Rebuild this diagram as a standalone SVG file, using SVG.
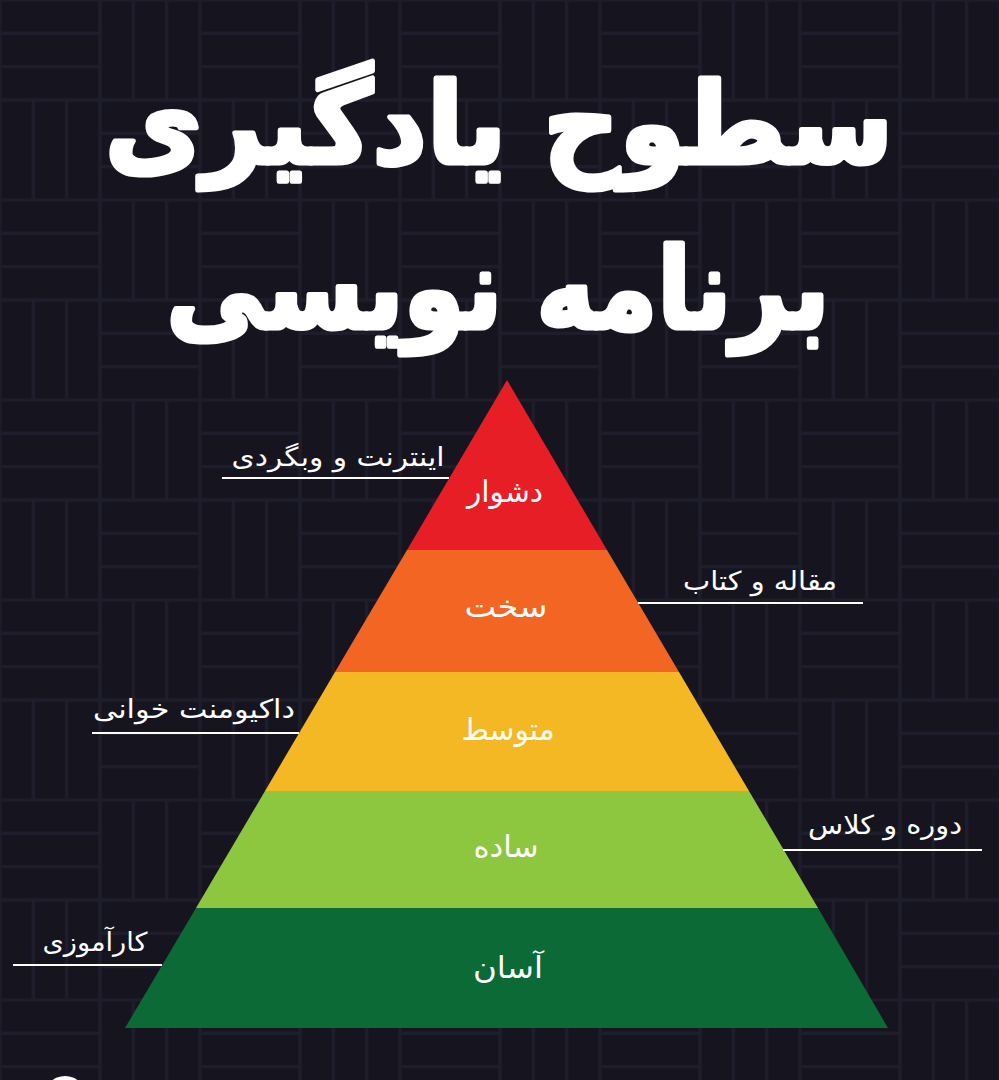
<svg xmlns="http://www.w3.org/2000/svg" width="999" height="1080" viewBox="0 0 999 1080">
  <defs>
    <pattern id="weave" width="200" height="200" patternUnits="userSpaceOnUse">
      <rect width="200" height="200" fill="#15141f"/>
      <g fill="none" stroke="#1e1d2b" stroke-width="3">
        <rect x="0" y="0" width="100" height="33.3"/>
        <rect x="0" y="33.3" width="100" height="33.3"/>
        <rect x="0" y="66.7" width="100" height="33.3"/>
        <rect x="100" y="0" width="33.3" height="100"/>
        <rect x="133.3" y="0" width="33.3" height="100"/>
        <rect x="166.7" y="0" width="33.3" height="100"/>
        <rect x="0" y="100" width="33.3" height="100"/>
        <rect x="33.3" y="100" width="33.3" height="100"/>
        <rect x="66.7" y="100" width="33.3" height="100"/>
        <rect x="100" y="100" width="100" height="33.3"/>
        <rect x="100" y="133.3" width="100" height="33.3"/>
        <rect x="100" y="166.7" width="100" height="33.3"/>
      </g>
    </pattern>
    <style>
      .title { font-family: "DejaVu Sans", "Noto Sans", sans-serif; font-weight: bold; fill: #ffffff; stroke: #ffffff; stroke-width: 5; stroke-linejoin: round; }
      .band { font-family: "DejaVu Sans", "Noto Sans", sans-serif; font-size: 30px; fill: #ffffff; text-anchor: middle; }
      .label { font-family: "DejaVu Sans", "Noto Sans", sans-serif; font-size: 26px; fill: #ffffff; text-anchor: middle; }
      .rule { stroke: #ffffff; stroke-width: 2; fill: none; }
    </style>
  </defs>

  <rect id="background" x="0" y="0" width="999" height="1080" fill="url(#weave)"/>

  <g id="title">
    <text class="title" x="499" y="163" font-size="112" text-anchor="middle" textLength="788" lengthAdjust="spacingAndGlyphs">سطوح یادگیری</text>
    <text class="title" x="498" y="328" font-size="112" text-anchor="middle" textLength="663" lengthAdjust="spacingAndGlyphs">برنامه نویسی</text>
  </g>

  <g id="pyramid">
    <g id="level-hard-extreme">
      <polygon points="507,380 607,550 407,550" fill="#e81e26"/>
      <text class="band" x="505" y="502" textLength="76" lengthAdjust="spacingAndGlyphs">دشوار</text>
    </g>
    <g id="level-hard">
      <polygon points="407,550 607,550 679,672 335,672" fill="#f26522"/>
      <text class="band" x="506" y="617" textLength="83" lengthAdjust="spacingAndGlyphs">سخت</text>
    </g>
    <g id="level-medium">
      <polygon points="335,672 679,672 749,791 265,791" fill="#f3b823"/>
      <text class="band" x="508" y="740" textLength="93" lengthAdjust="spacingAndGlyphs">متوسط</text>
    </g>
    <g id="level-simple">
      <polygon points="265,791 749,791 818,908 196,908" fill="#8dc63f"/>
      <text class="band" x="506" y="857" textLength="65" lengthAdjust="spacingAndGlyphs">ساده</text>
    </g>
    <g id="level-easy">
      <polygon points="196,908 818,908 888,1028 125,1028" fill="#0b6a36"/>
      <text class="band" x="508" y="978" textLength="70" lengthAdjust="spacingAndGlyphs">آسان</text>
    </g>
  </g>

  <g id="connectors">
    <line class="rule" x1="222" y1="478" x2="449" y2="478"/>
    <line class="rule" x1="638" y1="603" x2="863" y2="603"/>
    <line class="rule" x1="92" y1="733" x2="299" y2="733"/>
    <line class="rule" x1="783" y1="850" x2="982" y2="850"/>
    <line class="rule" x1="13" y1="965" x2="162" y2="965"/>
  </g>

  <g id="label-internet">
    <text class="label" x="338" y="466" textLength="213" lengthAdjust="spacingAndGlyphs">اینترنت و وبگردی</text>
  </g>
  <g id="label-articles">
    <text class="label" x="760" y="590" textLength="154" lengthAdjust="spacingAndGlyphs">مقاله و کتاب</text>
  </g>
  <g id="label-docs">
    <text class="label" x="194" y="718" textLength="202" lengthAdjust="spacingAndGlyphs">داکیومنت خوانی</text>
  </g>
  <g id="label-courses">
    <text class="label" x="885" y="834" textLength="154" lengthAdjust="spacingAndGlyphs">دوره و کلاس</text>
  </g>
  <g id="label-internship">
    <text class="label" x="95" y="951" textLength="105" lengthAdjust="spacingAndGlyphs">کارآموزی</text>
  </g>

  <circle id="corner-logo" cx="65" cy="1097" r="21" fill="#ffffff"/>
</svg>
